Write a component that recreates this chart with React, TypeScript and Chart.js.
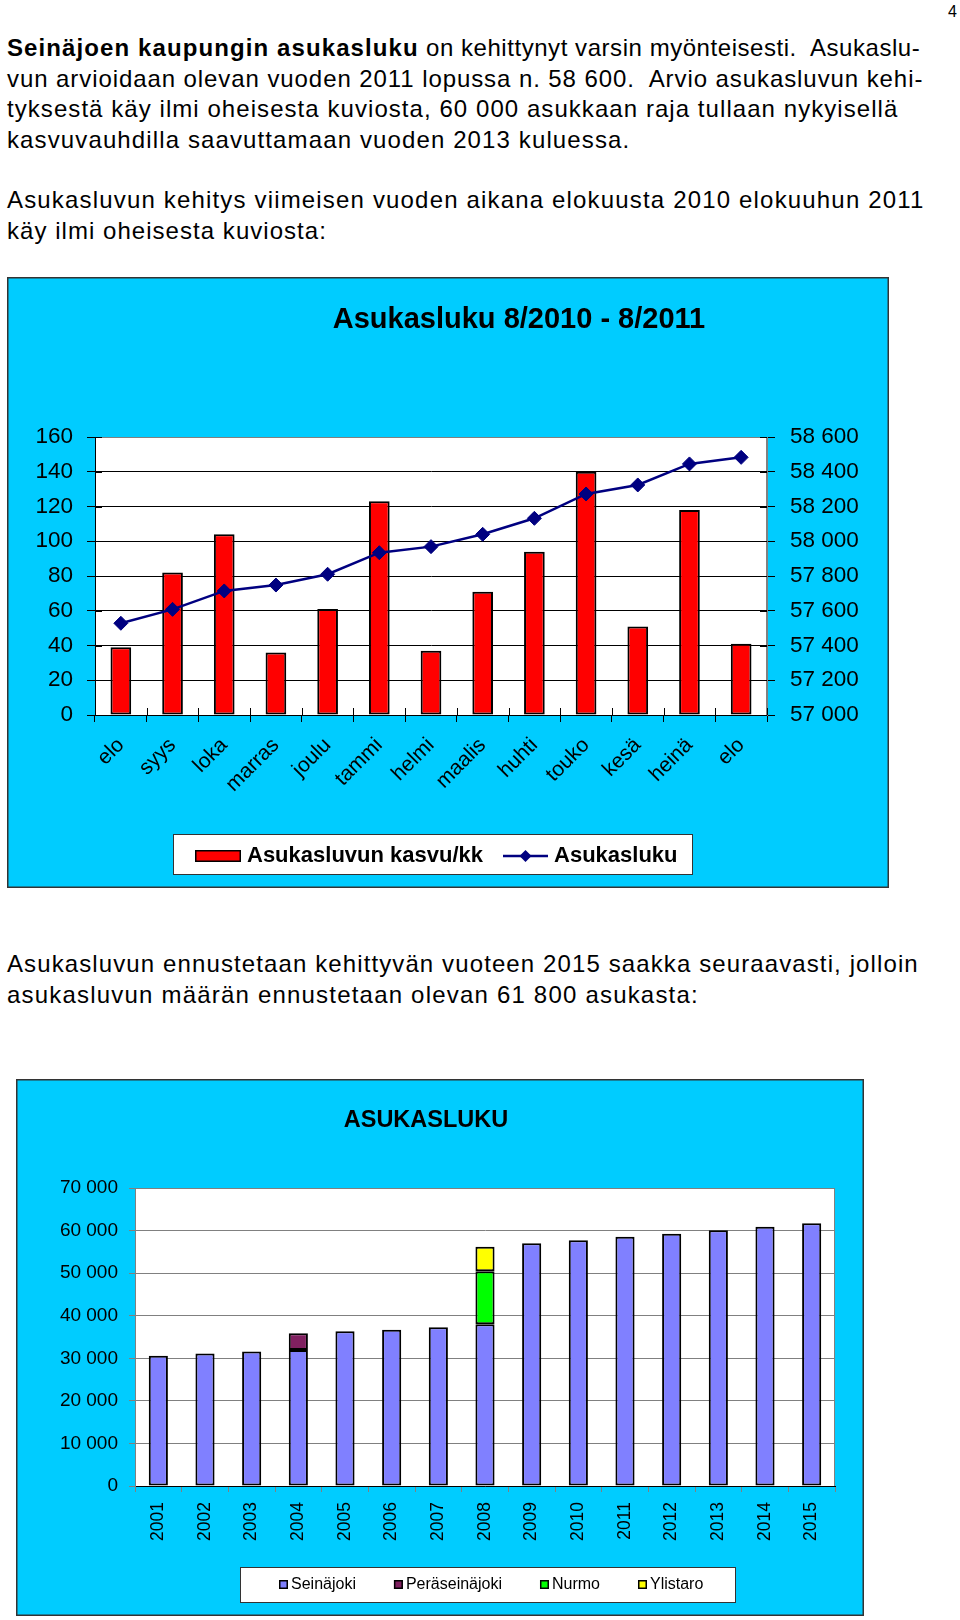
import React, { useEffect, useRef } from 'react';
import { Chart, registerables } from 'chart.js';

Chart.register(...registerables);

const FONT = "'Liberation Sans', Arial, Helvetica, sans-serif";
Chart.defaults.font.family = FONT;

// ---------- Chart 1: Asukasluku 8/2010 - 8/2011 ----------
const months = ['elo', 'syys', 'loka', 'marras', 'joulu', 'tammi', 'helmi', 'maalis', 'huhti', 'touko', 'kesä', 'heinä', 'elo'];
const growthPerMonth = [39, 82, 104, 36, 61, 123, 37, 71, 94, 140, 51, 118, 41];
const population = [57528, 57608, 57714, 57748, 57810, 57934, 57969, 58040, 58132, 58272, 58324, 58445, 58483];
const growthTicks = [0, 20, 40, 60, 80, 100, 120, 140, 160];
const populationTicks = [57000, 57200, 57400, 57600, 57800, 58000, 58200, 58400, 58600];
const chart1Title = 'Asukasluku 8/2010 - 8/2011';
const growthLabel = 'Asukasluvun kasvu/kk';
const populationLabel = 'Asukasluku';

// ---------- Chart 2: ASUKASLUKU ----------
const years = ['2001', '2002', '2003', '2004', '2005', '2006', '2007', '2008', '2009', '2010', '2011', '2012', '2013', '2014', '2015'];
const seinajoki = [30600, 31100, 31600, 31950, 36340, 36720, 37280, 37980, 57010, 57710, 58570, 59270, 60060, 60920, 61700];
const peraseinajoki = [null, null, null, 3920, null, null, null, null, null, null, null, null, null, null, null];
const nurmo = [null, null, null, null, null, null, null, 12450, null, null, null, null, null, null, null];
const ylistaro = [null, null, null, null, null, null, null, 5780, null, null, null, null, null, null, null];
const totalTicks = [0, 10000, 20000, 30000, 40000, 50000, 60000, 70000];
const chart2Title = 'ASUKASLUKU';

const fmt = (v: number | string) => String(v).replace(/\B(?=(\d{3})+(?!\d))/g, ' ');

const framePlugin = {
  id: 'frame',
  beforeDraw(chart: any, _args: any, opts: any) {
    const { ctx, width, height, chartArea: a } = chart;
    ctx.save();
    ctx.fillStyle = opts.background;
    ctx.fillRect(0, 0, width, height);
    ctx.lineWidth = opts.frameWidth;
    ctx.strokeStyle = opts.frameColor;
    ctx.strokeRect(opts.frameWidth / 2, opts.frameWidth / 2, width - opts.frameWidth, height - opts.frameWidth);
    ctx.fillStyle = '#ffffff';
    ctx.fillRect(a.left, a.top, a.right - a.left, a.bottom - a.top);
    ctx.lineWidth = 1;
    ctx.strokeStyle = opts.plotBorder;
    ctx.strokeRect(Math.round(a.left) + 0.5, Math.round(a.top) + 0.5, Math.round(a.right - a.left) - 1, Math.round(a.bottom - a.top));
    ctx.restore();
  },
  afterDraw(chart: any, _args: any, opts: any) {
    const { ctx, chartArea: a } = chart;
    ctx.save();
    if (opts.crossTicks) {
      const L = opts.crossTicks;
      const xs = chart.scales.x;
      const n = chart.data.labels.length;
      const step = (xs.right - xs.left) / n;
      ctx.strokeStyle = '#000';
      ctx.lineWidth = 1;
      ctx.beginPath();
      for (let i = 0; i <= n; i++) {
        const px = Math.round(xs.left + i * step) + 0.5;
        ctx.moveTo(px, xs.top);
        ctx.lineTo(px, xs.top - L);
      }
      const ys = chart.scales.y;
      ys.ticks.forEach((t: any) => {
        const py = Math.round(ys.getPixelForValue(t.value)) + 0.5;
        ctx.moveTo(a.left, py);
        ctx.lineTo(a.left + L, py);
      });
      const y1 = chart.scales.y1;
      if (y1) {
        y1.ticks.forEach((t: any) => {
          const py = Math.round(y1.getPixelForValue(t.value)) + 0.5;
          ctx.moveTo(a.right - L, py);
          ctx.lineTo(a.right, py);
        });
      }
      ctx.stroke();
    }
    // title
    ctx.font = `bold ${opts.titleSize}px ${FONT}`;
    ctx.fillStyle = '#000';
    ctx.textAlign = 'center';
    ctx.textBaseline = 'alphabetic';
    ctx.fillText(opts.title, opts.titleX, opts.titleY);
    // legend
    const lg = opts.legend;
    ctx.fillStyle = '#fff';
    ctx.fillRect(lg.x, lg.y, lg.w, lg.h);
    ctx.strokeStyle = '#333';
    ctx.lineWidth = 1;
    ctx.strokeRect(lg.x + 0.5, lg.y + 0.5, lg.w - 1, lg.h - 1);
    ctx.font = `${lg.bold ? 'bold ' : ''}${lg.size}px ${FONT}`;
    ctx.textAlign = 'left';
    ctx.textBaseline = 'middle';
    let x = lg.start;
    const cy = lg.cy;
    chart.data.datasets.forEach((ds: any) => {
      if (ds.type === 'line') {
        ctx.strokeStyle = ds.borderColor;
        ctx.lineWidth = ds.borderWidth;
        ctx.beginPath();
        ctx.moveTo(x, cy);
        ctx.lineTo(x + lg.lineW, cy);
        ctx.stroke();
        const mx = x + lg.lineW / 2;
        const r = lg.markR;
        ctx.fillStyle = ds.pointBackgroundColor;
        ctx.beginPath();
        ctx.moveTo(mx, cy - r);
        ctx.lineTo(mx + r, cy);
        ctx.lineTo(mx, cy + r);
        ctx.lineTo(mx - r, cy);
        ctx.closePath();
        ctx.fill();
        x += lg.lineW;
      } else {
        ctx.fillStyle = ds.backgroundColor;
        ctx.fillRect(x, cy - lg.boxH / 2, lg.boxW, lg.boxH);
        ctx.strokeStyle = '#000';
        ctx.lineWidth = lg.boxBorder;
        ctx.strokeRect(x + lg.boxBorder / 2, cy - lg.boxH / 2 + lg.boxBorder / 2, lg.boxW - lg.boxBorder, lg.boxH - lg.boxBorder);
        x += lg.boxW;
      }
      x += lg.gap;
      ctx.fillStyle = '#000';
      ctx.fillText(ds.label, x, cy);
      x += ctx.measureText(ds.label).width + lg.spacing;
    });
    ctx.restore();
  },
};

function config1(): any {
  return {
    type: 'bar',
    data: {
      labels: months,
      datasets: [
        {
          type: 'bar',
          label: growthLabel,
          data: growthPerMonth,
          yAxisID: 'y',
          backgroundColor: '#FF0000',
          borderColor: '#000000',
          borderWidth: 2,
          borderSkipped: false,
          barPercentage: 0.4,
          categoryPercentage: 1,
          order: 2,
        },
        {
          type: 'line',
          label: populationLabel,
          data: population,
          yAxisID: 'y1',
          borderColor: '#000080',
          backgroundColor: '#000080',
          borderWidth: 2.5,
          pointStyle: 'rectRot',
          pointRadius: 7,
          pointBackgroundColor: '#000080',
          pointBorderColor: '#000080',
          pointBorderWidth: 1,
          tension: 0,
          order: 1,
        },
      ],
    },
    options: {
      responsive: false,
      animation: false,
      layout: { padding: { top: 160, left: 0, right: 0, bottom: 0 } },
      plugins: {
        legend: { display: false },
        tooltip: { enabled: false },
        frame: {
          background: '#00CCFF',
          frameColor: '#333333',
          frameWidth: 1.5,
          plotBorder: '#808080',
          crossTicks: 7,
          title: chart1Title,
          titleSize: 29,
          titleX: 512,
          titleY: 51,
          legend: {
            x: 166, y: 557, w: 520, h: 41, start: 188, cy: 579,
            bold: true, size: 22, boxW: 46, boxH: 12, boxBorder: 1.5,
            lineW: 45, markR: 6, gap: 6, spacing: 20,
          },
        },
      },
      scales: {
        x: {
          grid: { offset: true, drawOnChartArea: false, tickLength: 7, color: '#000' },
          border: { color: '#000', width: 1 },
          ticks: { font: { size: 21 }, color: '#000', minRotation: 45, maxRotation: 45, autoSkip: false, padding: 11 },
          afterFit: (s: any) => { s.height = 173; },
        },
        y: {
          position: 'left',
          min: 0,
          max: 160,
          afterBuildTicks: (s: any) => { s.ticks = growthTicks.map((v) => ({ value: v })); },
          grid: {
            color: (c: any) => (c.tick && c.tick.value === 160 ? '#808080' : '#000'),
            tickColor: '#000',
            tickLength: 8,
            lineWidth: 1,
          },
          border: { color: '#000', width: 1 },
          ticks: { font: { size: 22.5 }, color: '#000', padding: 14 },
          afterFit: (s: any) => { s.width = 88; },
        },
        y1: {
          position: 'right',
          min: 57000,
          max: 58600,
          afterBuildTicks: (s: any) => { s.ticks = populationTicks.map((v) => ({ value: v })); },
          grid: { drawOnChartArea: false, tickLength: 8, color: '#000' },
          border: { color: '#808080', width: 1 },
          ticks: { font: { size: 22.5 }, color: '#000', padding: 15, callback: (v: any) => fmt(v) },
          afterFit: (s: any) => { s.width = 122; },
        },
      },
    },
    plugins: [framePlugin],
  };
}

function config2(): any {
  const common = { borderColor: '#000000', borderWidth: 2, borderSkipped: false, barPercentage: 0.41, categoryPercentage: 1 };
  return {
    type: 'bar',
    data: {
      labels: years,
      datasets: [
        { label: 'Seinäjoki', data: seinajoki, backgroundColor: '#8080FF', ...common },
        { label: 'Peräseinäjoki', data: peraseinajoki, backgroundColor: '#802060', ...common },
        { label: 'Nurmo', data: nurmo, backgroundColor: '#00FF00', ...common },
        { label: 'Ylistaro', data: ylistaro, backgroundColor: '#FFFF00', ...common },
      ],
    },
    options: {
      responsive: false,
      animation: false,
      layout: { padding: { top: 109, left: 0, right: 29, bottom: 0 } },
      plugins: {
        legend: { display: false },
        tooltip: { enabled: false },
        frame: {
          background: '#00CCFF',
          frameColor: '#333333',
          frameWidth: 1.5,
          plotBorder: '#808080',
          crossTicks: 0,
          title: chart2Title,
          titleSize: 23.5,
          titleX: 410,
          titleY: 48,
          legend: {
            x: 224, y: 488, w: 496, h: 36, start: 263, cy: 505.5,
            bold: false, size: 16, boxW: 9, boxH: 9, boxBorder: 1.5,
            lineW: 0, markR: 0, gap: 3, spacing: 38,
          },
        },
      },
      scales: {
        x: {
          stacked: true,
          grid: { offset: true, drawOnChartArea: false, tickLength: 6, color: '#808080' },
          border: { color: '#000', width: 1 },
          ticks: { font: { size: 17.5 }, color: '#000', minRotation: 90, maxRotation: 90, autoSkip: false, padding: 10 },
          afterFit: (s: any) => { s.height = 130; },
        },
        y: {
          stacked: true,
          min: 0,
          max: 70000,
          afterBuildTicks: (s: any) => { s.ticks = totalTicks.map((v) => ({ value: v })); },
          grid: { color: '#808080', tickLength: 6, lineWidth: 1 },
          border: { color: '#808080', width: 1 },
          ticks: { font: { size: 19 }, color: '#000', padding: 11, callback: (v: any) => fmt(v) },
          afterFit: (s: any) => { s.width = 119; },
        },
      },
    },
    plugins: [framePlugin],
  };
}

const textStyle: React.CSSProperties = {
  position: 'absolute',
  left: 7,
  fontFamily: FONT,
  fontSize: 24,
  lineHeight: '30.5px',
  color: '#000',
  whiteSpace: 'pre',
  margin: 0,
};

const ls = (v: number): React.CSSProperties => ({ letterSpacing: `${v}px` });

export default function App() {
  const c1 = useRef<HTMLCanvasElement>(null);
  const c2 = useRef<HTMLCanvasElement>(null);

  useEffect(() => {
    const ch1 = new Chart(c1.current as HTMLCanvasElement, config1());
    const ch2 = new Chart(c2.current as HTMLCanvasElement, config2());
    return () => {
      ch1.destroy();
      ch2.destroy();
    };
  }, []);

  return (
    <div>
      <div style={{ position: 'absolute', left: 900, width: 57, top: 4, textAlign: 'right', fontFamily: FONT, fontSize: 16, lineHeight: '16px' }}>4</div>
      <div style={{ ...textStyle, top: 33.4 }}>
        <div style={ls(0.55)}><b style={ls(1.1)}>Seinäjoen kaupungin asukasluku</b>{' on kehittynyt varsin myönteisesti.  Asukaslu-'}</div>
        <div style={ls(0.92)}>{'vun arvioidaan olevan vuoden 2011 lopussa n. 58 600.  Arvio asukasluvun kehi-'}</div>
        <div style={ls(1.06)}>{'tyksestä käy ilmi oheisesta kuviosta, 60 000 asukkaan raja tullaan nykyisellä'}</div>
        <div style={ls(1.12)}>{'kasvuvauhdilla saavuttamaan vuoden 2013 kuluessa.'}</div>
      </div>
      <div style={{ ...textStyle, top: 185 }}>
        <div style={ls(1.17)}>{'Asukasluvun kehitys viimeisen vuoden aikana elokuusta 2010 elokuuhun 2011'}</div>
        <div style={ls(1.04)}>{'käy ilmi oheisesta kuviosta:'}</div>
      </div>
      <div style={{ position: 'absolute', left: 7, top: 277, width: 882, height: 611 }}>
        <canvas ref={c1} width={882} height={611} style={{ width: 882, height: 611, display: 'block' }} />
      </div>
      <div style={{ ...textStyle, top: 949.4 }}>
        <div style={ls(1.11)}>{'Asukasluvun ennustetaan kehittyvän vuoteen 2015 saakka seuraavasti, jolloin'}</div>
        <div style={ls(1.2)}>{'asukasluvun määrän ennustetaan olevan 61 800 asukasta:'}</div>
      </div>
      <div style={{ position: 'absolute', left: 16, top: 1079, width: 848, height: 537 }}>
        <canvas ref={c2} width={848} height={537} style={{ width: 848, height: 537, display: 'block' }} />
      </div>
    </div>
  );
}
